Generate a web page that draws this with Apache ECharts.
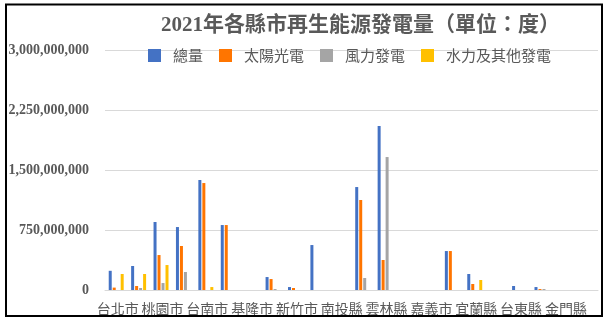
<!DOCTYPE html>
<html>
<head>
<meta charset="utf-8">
<script src="https://cdn.jsdelivr.net/npm/echarts@6/dist/echarts.min.js"></script>
<style>
html,body{margin:0;padding:0;background:#fff;}
#c{width:611px;height:325px;}
</style>
</head>
<body>
<div id="c"></div>
<script>
// Categories (every second label shown, as in the reference)
const categories = ['台北市','新北市','桃園市','台中市','台南市','高雄市','基隆市','新竹縣','新竹市','苗栗縣','南投縣','彰化縣','雲林縣','嘉義縣','嘉義市','屏東縣','宜蘭縣','花蓮縣','台東縣','澎湖縣','金門縣','連江縣'];
const seriesNames = ['總量','太陽光電','風力發電','水力及其他發電'];
const total = [240e6,300e6,850e6,787e6,1375e6,812e6,0,162e6,37e6,562e6,0,1287e6,2050e6,0,0,487e6,200e6,0,50e6,37e6,0,0];
const solar = [30e6,50e6,437e6,550e6,1337e6,812e6,0,137e6,25e6,0,0,1125e6,375e6,0,0,487e6,75e6,0,0,12e6,0,0];
const wind  = [0,25e6,87e6,225e6,0,0,0,12e6,0,0,0,150e6,1662e6,0,0,0,0,0,0,12e6,0,0];
const hydro = [200e6,200e6,312e6,0,37e6,0,0,0,0,0,0,0,0,0,0,0,125e6,0,0,0,0,0];
const yTicks = [0,750e6,1500e6,2250e6,3000e6];

const colors = ['#4472C4','#FF7500','#A5A5A5','#FFC000'];
const dataSets = [total, solar, wind, hydro];

const chart = echarts.init(document.getElementById('c'), null, {renderer:'canvas'});
const fmt = v => v.toString().replace(/\B(?=(\d{3})+(?!\d))/g, ',');

chart.setOption({
  animation:false,
  color: colors,
  title:{
    text:'2021年各縣市再生能源發電量（單位：度）',
    left:156, top:10,
    textStyle:{fontSize:21,fontWeight:'bold',color:'#595959',fontFamily:'"Liberation Serif","Noto Sans CJK TC",serif'}
  },
  legend:{
    left:143, top:43,
    itemWidth:13, itemHeight:13, itemGap:16,
    icon:'rect',
    textStyle:{fontSize:15,color:'#595959',fontFamily:'"Noto Sans CJK TC",sans-serif',padding:[0,0,0,7]},
    data: seriesNames
  },
  grid:{left:105,right:13,top:50,bottom:35,containLabel:false},
  xAxis:{
    type:'category',
    data:categories,
    axisLine:{show:true,lineStyle:{color:'#d9d9d9',width:1}},
    axisTick:{show:false},
    axisLabel:{interval:1,margin:12,fontSize:14,color:'#595959',fontFamily:'"Noto Sans CJK TC",sans-serif',padding:[0,0,0,3]}
  },
  yAxis:{
    type:'value',
    min:yTicks[0], max:yTicks[yTicks.length-1], interval:yTicks[1]-yTicks[0],
    axisLine:{show:false},
    axisTick:{show:false},
    splitLine:{lineStyle:{color:'#d9d9d9',width:1}},
    axisLabel:{margin:16,fontSize:14,fontWeight:'bold',color:'#595959',fontFamily:'"Liberation Serif",serif',formatter:fmt}
  },
  series: seriesNames.map((n,i)=>({
    name:n,
    type:'bar',
    data:dataSets[i],
    barWidth:3,
    barGap:'33%',
    itemStyle:{color:colors[i]}
  })),
  graphic:[{
    type:'rect',
    shape:{x:6,y:4.5,width:596,height:311.5},
    style:{fill:null,stroke:'#000',lineWidth:2},
    silent:true,
    z:100
  }]
});
</script>
</body>
</html>
